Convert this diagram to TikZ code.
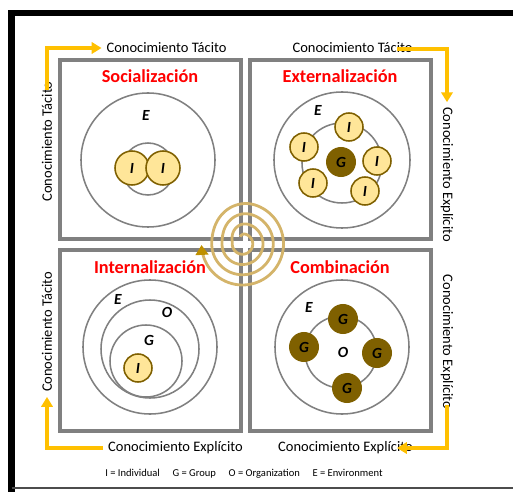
\documentclass[tikz,border=0pt]{standalone}
\usepackage{fontspec}
\setmainfont{Carlito}
\usetikzlibrary{arrows.meta}
\definecolor{oro}{HTML}{FFC000}
\definecolor{crema}{HTML}{FFE699}
\definecolor{bruno}{HTML}{7F6000}
\definecolor{grigio}{HTML}{808080}
\definecolor{spira}{HTML}{D4B46A}
\definecolor{punta}{HTML}{BF9000}
\tikzset{
  quad/.style   = {draw=grigio, line width=2.2pt},
  anello/.style = {draw=grigio, line width=1.1pt},
  indiv/.style  = {circle, draw=bruno, line width=1.1pt, fill=crema, minimum size=0.7cm, inner sep=0, font=\bfseries\itshape\fontsize{11}{11}\selectfont},
  gruppo/.style = {circle, fill=bruno, minimum size=0.75cm, inner sep=0, font=\bfseries\itshape\fontsize{11}{11}\selectfont},
  titolo/.style = {font=\bfseries\fontsize{13}{15}\selectfont, text=red},
  et/.style     = {font=\fontsize{10.3}{12}\selectfont},
  lett/.style   = {font=\bfseries\itshape\fontsize{11}{13}\selectfont},
  flusso/.style = {draw=oro, line width=2.2pt, -{Triangle[length=7pt,width=8pt]}}
}

\begin{document}
\begin{tikzpicture}[x=0.025cm, y=-0.025cm,
    declare function={sal(\f)=(\f<0.3) ? (1-cos(600*\f))/2 : 1; spr(\t)=10.25*(floor(\t)+sal(\t-floor(\t)));}]
  \useasboundingbox (0,0) rectangle (513,492);
  % cornice
  \draw[line width=4.5pt] (11.5,492) -- (11.5,13) -- (513,13);
  \draw[line width=0.8pt, black!70] (11.5,488) -- (513,488);
  % quadranti
  \draw[quad] (60,60) rectangle (241,239);
  \draw[quad] (250,60) rectangle (431,239);
  \draw[quad] (60,250) rectangle (241,431);
  \draw[quad] (250,250) rectangle (431,431);
  \node[titolo] (soc) at (150,76) {Socialización};
  \node[titolo] (ext) at (340,76) {Externalización};
  \node[titolo] (int) at (150,267) {Internalización};
  \node[titolo] (com) at (340,267) {Combinación};
  % socializacion
  \draw[anello] (148,160) circle[radius=67];
  \draw[anello] (148,169) circle[radius=26];
  \node[lett] (e1) at (146,115) {E};
  \node[indiv, minimum size=0.85cm] (s1) at (132,168) {I};
  \node[indiv, minimum size=0.85cm] (s2) at (163,168) {I};
  % externalizacion
  \draw[anello] (342,160) circle[radius=68];
  \draw[anello] (342,163) circle[radius=40];
  \node[lett] (e2) at (318,110) {E};
  \node[gruppo] (g0) at (341,162) {G};
  \node[indiv] (x1) at (349,127) {I};
  \node[indiv] (x2) at (304,147) {I};
  \node[indiv] (x3) at (377,161) {I};
  \node[indiv] (x4) at (313,183) {I};
  \node[indiv] (x5) at (365,191) {I};
  % internalizacion
  \draw[anello] (150,347) circle[radius=67];
  \draw[anello] (150,349) circle[radius=49];
  \draw[anello] (146,361) circle[radius=36];
  \node[lett] (e3) at (118,299) {E};
  \node[lett] (o3) at (167,312) {O};
  \node[lett] (g3) at (149,340) {G};
  \node[indiv] (n1) at (138,368) {I};
  % combinacion
  \draw[anello] (342,347) circle[radius=67];
  \draw[anello] (341,352) circle[radius=36];
  \node[lett] (e4) at (309,307) {E};
  \node[lett] (o4) at (343,352) {O};
  \node[gruppo] (c1) at (343,319) {G};
  \node[gruppo] (c2) at (304,347) {G};
  \node[gruppo] (c3) at (377,353) {G};
  \node[gruppo] (c4) at (347,388) {G};
  % spirale
  \draw[spira, line width=2pt, -{Triangle[length=7pt,width=9pt,color=punta]}]
    plot[domain=0.2:4, samples=300, smooth] ({242.5+spr(\x)*cos(180+360*\x)}, {244+spr(\x)*sin(180+360*\x)});
  % flussi
  \coordinate (a1) at (47,90);
  \coordinate (a2) at (397,49);
  \coordinate (a3) at (447,405);
  \coordinate (a3e) at (397,448);
  \node[et] (tt1) at (166.5,48) {Conocimiento Tácito};
  \node[et] (tt2) at (352.5,48) {Conocimiento Tácito};
  \node[et] (le1) at (175.5,448) {Conocimiento Explícito};
  \node[et] (le2) at (345.5,448) {Conocimiento Explícito};
  \node[et, rotate=90] (vt1) at (47,141.5) {Conocimiento Tácito};
  \node[et, rotate=90] (vt2) at (47,332) {Conocimiento Tácito};
  \node[et, rotate=-90] (ve1) at (447,174.5) {Conocimiento Explícito};
  \node[et, rotate=-90] (ve2) at (447,342) {Conocimiento Explícito};
  \draw[flusso] (a1) |- (tt1.west);
  \draw[flusso] (a2) -| (ve1.west);
  \draw[flusso] (a3) |- (a3e);
  \draw[flusso] (le1.west) -| (vt2.west);
  % legenda
  \node[font=\fontsize{7.5}{9}\selectfont] (leg) at (244,474) {I = Individual\hspace{1.2em}G = Group\hspace{1.2em}O = Organization\hspace{1.2em}E = Environment};
\end{tikzpicture}
\end{document}
